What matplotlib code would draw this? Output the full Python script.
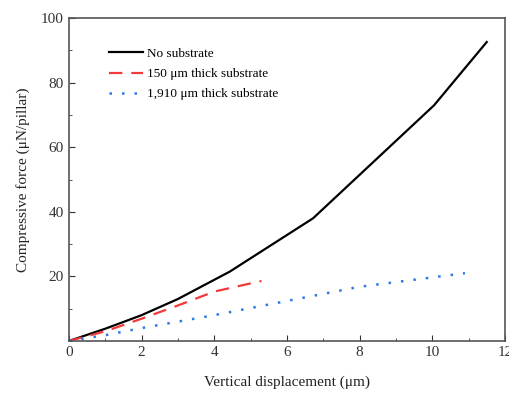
import matplotlib.pyplot as plt
from matplotlib.ticker import MultipleLocator

plt.rcParams['font.family'] = ['Liberation Serif', 'DejaVu Serif']

# displacement (um) vs force (uN/pillar)
no_sub_x = [0, 1, 2, 3, 4.43, 6.72, 10.05, 11.5]
no_sub_y = [0, 3.8, 8, 13, 21.5, 38, 73, 92.6]

sub150_x = [0, 1, 2, 3, 4, 5.3]
sub150_y = [0, 3, 6.9, 11, 15.3, 18.6]

sub1910_x = [0, 1, 2, 4, 6, 8, 10.9]
sub1910_y = [0, 1.8, 4, 8, 12.4, 16.8, 21]

fig = plt.figure(figsize=(5.1, 3.94), dpi=100)
ax = fig.add_axes([0.135, 0.1345, 0.855, 0.8195])

ax.plot(no_sub_x, no_sub_y, color='black', lw=1.6, label='No substrate')
ax.plot(sub150_x, sub150_y, color='#f23a3a', lw=1.6, ls=(0, (6, 4)), label='150 μm thick substrate')
ax.plot(sub1910_x, sub1910_y, color='#2f78e8', lw=1.8, ls=(0, (1, 4)), label='1,910 μm thick substrate')

ax.set_xlim(0, 12)
ax.set_ylim(0, 100)
ax.set_xticks([0, 2, 4, 6, 8, 10, 12])
ax.set_yticks([20, 40, 60, 80, 100])
ax.xaxis.set_minor_locator(MultipleLocator(1))
ax.yaxis.set_minor_locator(MultipleLocator(10))
ax.tick_params(which='both', direction='in', labelsize=11, colors='#333333')
ax.tick_params(which='major', length=4)
ax.tick_params(which='minor', length=2.5)
for s in ax.spines.values():
    s.set_color('#555555')
    s.set_linewidth(1.2)

ax.set_xlabel('Vertical displacement (μm)', fontsize=11, color='#222222', labelpad=12)
ax.set_ylabel('Compressive force (μN/pillar)', fontsize=11, color='#222222', labelpad=8)

ax.legend(loc='upper left', bbox_to_anchor=(0.065, 0.945), frameon=False, fontsize=9.5,
          handlelength=2.6, labelspacing=0.6, handletextpad=0.3)

plt.savefig('out.png', dpi=100)
